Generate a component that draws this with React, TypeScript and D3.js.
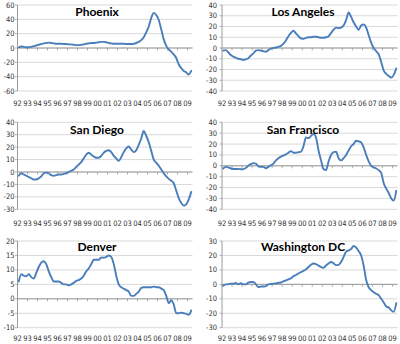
import React from 'react';
import * as d3 from 'd3';

const yearLabels = ['92','93','94','95','96','97','98','99','00','01','02','03','04','05','06','07','08','09'];
const startYear = 1992;

// quarterly values (mid-quarter), 1992Q1 .. 2009Q2
const phoenix = [
  1, 2, 1.5, 1,
  1, 1.5, 2.5, 3.5,
  4.5, 5.5, 6.5, 7,
  7.5, 7, 6.5, 6,
  6, 6, 5.5, 5.5,
  5, 5, 4.5, 4,
  4, 4.5, 5, 6,
  6.5, 7, 7, 7.5,
  8, 8.5, 8.5, 8,
  7, 6.5, 6, 6,
  6, 6, 6, 5.5,
  5.5, 5.5, 6, 7,
  8.5, 11, 15, 22,
  30, 42, 49, 46,
  39, 26, 12, 3,
  -2, -5, -9, -14,
  -23, -28, -32, -34,
  -37, -32,
];
const losAngeles = [
  -2.5, -2, -4, -6.5,
  -8, -9, -10, -10.5,
  -11, -10.5, -9.5, -7,
  -5, -2.5, -2, -2.5,
  -3, -3.5, -2, -0.5,
  0, 0.5, 1, 2,
  4, 7, 11, 14,
  16, 13.5, 11, 9,
  8.5, 9.5, 10, 10,
  10.5, 10.5, 10, 9.5,
  9.5, 10, 11, 14,
  17, 19, 18.5, 19,
  21, 26, 33, 29,
  24, 20, 17, 21,
  22, 19, 12, 5,
  0, -3, -6, -13,
  -21, -24, -26, -27.5,
  -25, -19,
];
const sanDiego = [
  -3, -1, -2, -3,
  -4, -5, -6, -6,
  -5, -3.5, -1, -0.5,
  -1, -2.5, -3, -2.5,
  -2, -2, -1.5, -1,
  0, 1, 2, 4,
  6, 8, 11, 14,
  15.5, 14, 12.5, 11.5,
  11.5, 13, 15.5, 17,
  17.5, 16, 13, 11,
  9, 12, 16, 19,
  20.5, 18, 16, 17.5,
  22, 27, 33, 29,
  24, 17, 10, 7.5,
  5, 2, -1, -3.5,
  -5.5, -7, -9, -15,
  -21, -25, -27, -26,
  -22, -16,
];
const sanFrancisco = [
  -2.5, -1, -1.5, -2.5,
  -3, -3, -3, -3.2,
  -3, -2, 0, 1.5,
  2.5, 2, -0.5, -1,
  -1, -2.2, -1, 0.5,
  2, 5, 7, 8.5,
  9.5, 10.5, 12, 13.5,
  12, 12, 12.5, 13,
  18, 26, 25.5, 27.5,
  29.5, 26, 14, 5,
  -3, -4, 4, 10,
  12.5, 13, 7, 5,
  7, 10, 14, 18,
  20, 23, 22.5, 21.5,
  17, 10, 4, 0,
  -1.5, -2.5, -4, -6.5,
  -16, -21, -25, -30,
  -32, -23,
];
const denver = [
  6, 8.5, 8, 7.8,
  8.5, 7.5, 7, 9,
  11, 12.5, 13, 12,
  9.5, 7.5, 6, 6,
  6, 5.5, 5, 5,
  4.7, 5, 5.5, 6.2,
  6.5, 7, 8, 9.5,
  10.5, 12, 13.5, 13.5,
  13.5, 14.3, 14.2, 14.5,
  15, 14.5, 12, 8,
  5, 4, 3.5, 3,
  2.5, 1, 1, 1.7,
  2.5, 3.8, 4, 4,
  4, 4, 4.2, 4,
  4, 3.5, 3, 1,
  -1.5, -0.5, -2, -5,
  -5, -4.8, -5, -5.2,
  -5.5, -4,
];
const washingtonDC = [
  -1, 0, 0, 0.5,
  0.5, 1, 0, 0.8,
  0, 0, 1.2, 1.6,
  1.6, 0, -1.8, -1.6,
  -1.5, -1.2, 0, 0.2,
  0.5, 0.7, 1, 1.3,
  2, 2.8, 3.5, 4.2,
  5.5, 6.5, 7.5, 8.5,
  9.3, 10.5, 12, 13.5,
  14.4, 14, 13, 12,
  11.5, 13, 14.5, 15.5,
  14.5, 13.3, 13.5, 15.5,
  19, 22.6, 23.5, 24.5,
  26.5, 25.5, 23, 20,
  13, 3, -2, -4,
  -5.5, -6.5, -7.5, -10,
  -12.5, -15.3, -16, -18,
  -19, -13,
];

const phoenixTicks = [60, 40, 20, 0, -20, -40, -60];
const losAngelesTicks = [40, 30, 20, 10, 0, -10, -20, -30, -40];
const sanDiegoTicks = [40, 30, 20, 10, 0, -10, -20, -30];
const sanFranciscoTicks = [40, 30, 20, 10, 0, -10, -20, -30, -40];
const denverTicks = [20, 15, 10, 5, 0, -5, -10];
const washingtonDCTicks = [30, 20, 10, 0, -10, -20, -30];

const panels = [
  { title: 'Phoenix', values: phoenix, ticks: phoenixTicks },
  { title: 'Los Angeles', values: losAngeles, ticks: losAngelesTicks },
  { title: 'San Diego', values: sanDiego, ticks: sanDiegoTicks },
  { title: 'San Francisco', values: sanFrancisco, ticks: sanFranciscoTicks },
  { title: 'Denver', values: denver, ticks: denverTicks },
  { title: 'Washington DC', values: washingtonDC, ticks: washingtonDCTicks },
];

const colLayout = [
  { left: 17.5, right: 192.5, labelRight: 14.5, titleX: 97 },
  { left: 222, right: 397.5, labelRight: 217, titleX: 303 },
];
const rowLayout = [
  { top: 5, bottom: 91, labelY: 103, titleY: 11 },
  { top: 122.3, bottom: 209.3, labelY: 223, titleY: 129 },
  { top: 241, bottom: 327.7, labelY: 338, titleY: 246 },
];

const tickFont = '"Liberation Sans Narrow", "Arial Narrow", "DejaVu Sans Condensed", sans-serif';

function Panel({ p, idx }: { p: any; idx: number }) {
  const c = colLayout[idx % 2];
  const r = rowLayout[Math.floor(idx / 2)];
  const x = d3.scaleLinear().domain([startYear, startYear + 17.5]).range([c.left, c.right]);
  const y = d3.scaleLinear().domain([d3.min(p.ticks) as number, d3.max(p.ticks) as number]).range([r.bottom, r.top]);
  const pts: [number, number][] = p.values.map((v: number, i: number) => [startYear + i * 0.25 + 0.125, v]);
  const line = d3.line<[number, number]>().x(d => x(d[0])).y(d => y(d[1])).curve(d3.curveMonotoneX);
  const y0 = y(0);
  return (
    <g>
      {p.ticks.map((t: number) => (
        <line key={'g' + t} x1={c.left} x2={c.right} y1={y(t)} y2={y(t)} stroke="#d9d9d9" strokeWidth={1} />
      ))}
      {p.ticks.map((t: number) => (
        <line key={'yt' + t} x1={c.left - 2.5} x2={c.left} y1={y(t)} y2={y(t)} stroke="#a0a0a0" strokeWidth={0.8} />
      ))}
      <line x1={c.left} x2={c.left} y1={r.top} y2={r.bottom} stroke="#9a9a9a" strokeWidth={1} />
      <line x1={c.left} x2={c.right} y1={y0} y2={y0} stroke="#9a9a9a" strokeWidth={1} />
      {yearLabels.map((lab, i) => (
        <line key={'xt' + i} x1={x(startYear + i)} x2={x(startYear + i)} y1={y0} y2={y0 + 2.5} stroke="#9a9a9a" strokeWidth={0.8} />
      ))}
      {p.ticks.map((t: number) => (
        <text key={'yl' + t} x={c.labelRight} y={y(t)} textAnchor="end" dominantBaseline="central"
          fontFamily={tickFont} fontSize={7.5} fill="#333">{t}</text>
      ))}
      {yearLabels.map((lab, i) => (
        <text key={'xl' + i} x={x(startYear + i)} y={r.labelY} textAnchor="middle" dominantBaseline="central"
          fontFamily={tickFont} fontSize={7.5} fill="#333">{lab}</text>
      ))}
      <path d={line(pts) || ''} fill="none" stroke="#4a7ebb" strokeWidth={1.9} strokeLinejoin="round" strokeLinecap="round" />
      <text x={c.titleX} y={r.titleY} textAnchor="middle" dominantBaseline="central"
        fontFamily="Lato, 'Open Sans', sans-serif" fontWeight="bold" fontSize={12} fill="#000">{p.title}</text>
    </g>
  );
}

export default function App() {
  return (
    <svg width={400} height={344} viewBox="0 0 400 344"
      style={{ position: 'fixed', left: 0, top: 0, background: '#fff', display: 'block' }}>
      <rect x={0} y={0} width={400} height={344} fill="#fff" />
      {panels.map((p, i) => <Panel key={p.title} p={p} idx={i} />)}
    </svg>
  );
}
